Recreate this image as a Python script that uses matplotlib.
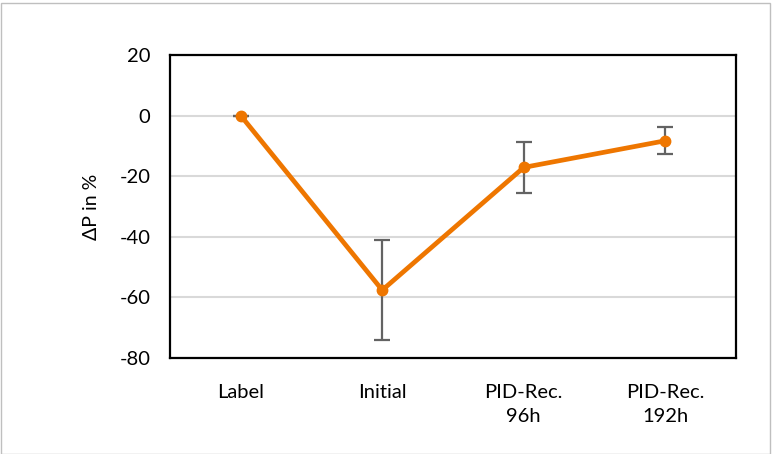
import matplotlib.pyplot as plt
from matplotlib.patches import Rectangle

# Data
categories = ["Label", "Initial", "PID-Rec.\n96h", "PID-Rec.\n192h"]
delta_p = [0.0, -57.6, -17.1, -8.3]
delta_err = [0.0, 16.6, 8.4, 4.5]
y_ticks = [20, 0, -20, -40, -60, -80]

plt.rcParams['font.family'] = ['Lato', 'DejaVu Sans']
plt.rcParams['axes.unicode_minus'] = False

fig = plt.figure(figsize=(7.76, 4.54), dpi=100)
ax = fig.add_axes([170 / 776, 1 - 358 / 454, 566 / 776, 303 / 454])

x = list(range(len(categories)))
ax.errorbar(x, delta_p, yerr=delta_err, fmt='none', ecolor='#636363',
            elinewidth=1.6, capsize=6, capthick=1.6, zorder=2)
ax.plot(x, delta_p, color='#EE7600', lw=3.4, marker='o', ms=7.5, zorder=3)

ax.set_xlim(-0.5, 3.5)
ax.set_ylim(-80, 20)
ax.set_yticks(y_ticks)
ax.set_xticks(x)
ax.set_xticklabels(categories, fontsize=14.5, linespacing=1.45)
ax.tick_params(axis='y', labelsize=14.5, length=0, pad=14)
ax.tick_params(axis='x', length=0, pad=19)
ax.set_ylabel("ΔP in %", fontsize=14, labelpad=14)
ax.yaxis.grid(True, color='#D9D9D9', lw=1.5)
ax.set_axisbelow(True)
for s in ax.spines.values():
    s.set_linewidth(1.6)
    s.set_color('black')

# light frame around the whole chart
fig.patches.append(Rectangle((0.5 / 776, 0.5 / 454), 769 / 776, 451 / 454,
                             transform=fig.transFigure, fill=False,
                             edgecolor='#BFBFBF', lw=1))

fig.savefig("out.png", dpi=100)
